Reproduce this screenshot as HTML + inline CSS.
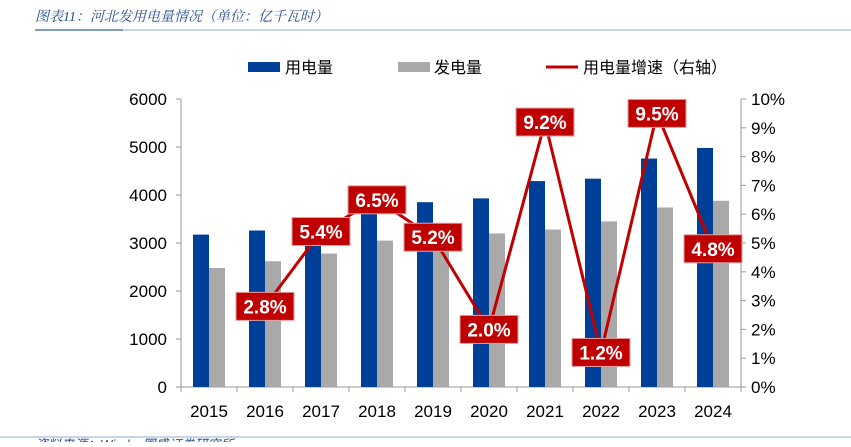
<!DOCTYPE html>
<html><head><meta charset="utf-8"><style>
body{margin:0;background:#fff;width:851px;height:442px;overflow:hidden;font-family:"Liberation Sans","Noto Sans CJK SC",sans-serif}
</style></head><body>
<svg id="c" width="851" height="442" xmlns="http://www.w3.org/2000/svg">
<text x="35" y="21" font-size="14" font-style="italic" fill="#2a4d8f" font-family="'Liberation Serif','Noto Serif CJK SC',serif">图表11：河北发用电量情况（单位：亿千瓦时）</text>
<line x1="35" y1="30" x2="851" y2="30" stroke="#b7c8e0" stroke-width="1.5"/>
<line x1="35" y1="30" x2="123" y2="30" stroke="#7d9bc8" stroke-width="2"/>
<line x1="0" y1="437" x2="851" y2="437" stroke="#b7c8e0" stroke-width="1.5"/>
<text x="35" y="449" font-size="13" font-style="italic" fill="#2a4d8f">资料来源：Wind，国盛证券研究所</text>
<g>
<rect x="248" y="62" width="32" height="10" fill="#003f98"/>
<text x="285" y="73" font-size="16" fill="#000">用电量</text>
<rect x="398" y="62" width="32" height="10" fill="#a9a9a9"/>
<text x="434" y="73" font-size="16" fill="#000">发电量</text>
<line x1="546" y1="67" x2="578" y2="67" stroke="#c00000" stroke-width="3"/>
<text x="583" y="73" font-size="16" fill="#000">用电量增速（右轴）</text>
</g>
<g id="plot"></g>
</svg>
<script>
const years=["2015","2016","2017","2018","2019","2020","2021","2022","2023","2024"];
const consumption=[3175,3260,3440,3660,3850,3930,4290,4340,4760,4980];
const generation=[2480,2620,2780,3050,3100,3200,3280,3450,3740,3880];
const growth=[null,2.8,5.4,6.5,5.2,2.0,9.2,1.2,9.5,4.8];
const leftTicks=[0,1000,2000,3000,4000,5000,6000];
const rightTicks=[0,1,2,3,4,5,6,7,8,9,10];
const NS="http://www.w3.org/2000/svg";
const g=document.getElementById('plot');
const X0=181,X1=741,Y0=387,Y1=99,step=(X1-X0)/years.length;
const yL=v=>Y0-(v/6000)*(Y0-Y1);
const yR=v=>Y0-(v/10)*(Y0-Y1);
const xc=i=>X0+step*(i+0.5);
function mk(t,a){const e=document.createElementNS(NS,t);for(const k in a)e.setAttribute(k,a[k]);g.appendChild(e);return e;}
let e;
e=mk('line',{x1:X0,y1:Y1,x2:X0,y2:Y0,stroke:'#999'});


e=mk('line',{x1:X1,y1:Y1,x2:X1,y2:Y0,stroke:'#999'});


e=mk('line',{x1:X0,y1:Y0,x2:X1,y2:Y0,stroke:'#999'});


leftTicks.forEach(v=>{e=mk('line',{x1:X0-5,x2:X0,y1:yL(v),y2:yL(v),stroke:'#999'});


e=mk('text',{x:X0-14,y:yL(v)+6,'font-size':17,'text-anchor':'end',fill:'#000'});e.textContent=v;

});
rightTicks.forEach(v=>{e=mk('line',{x1:X1,x2:X1+5,y1:yR(v),y2:yR(v),stroke:'#999'});


e=mk('text',{x:X1+10,y:yR(v)+6,'font-size':17,fill:'#000'});e.textContent=v+'%';

});
for(let i=0;i<=years.length;i++){e=mk('line',{x1:X0+step*i,x2:X0+step*i,y1:Y0,y2:Y0+5,stroke:'#999'});

}
years.forEach((y,i)=>{
e=mk('rect',{x:xc(i)-16,y:yL(consumption[i]),width:16,height:Y0-yL(consumption[i]),fill:'#003f98'});


e=mk('rect',{x:xc(i),y:yL(generation[i]),width:16,height:Y0-yL(generation[i]),fill:'#a9a9a9'});


e=mk('text',{x:xc(i),y:417,'font-size':17,'text-anchor':'middle',fill:'#000'});e.textContent=y;


});
const pts=[];growth.forEach((v,i)=>{if(v!==null)pts.push([xc(i),yR(v),v,i]);});
e=mk('polyline',{points:pts.map(p=>p[0]+','+p[1]).join(' '),fill:'none',stroke:'#c00000','stroke-width':3});


pts.forEach(p=>{
e=mk('rect',{x:p[0]-29,y:p[1]-14,width:58,height:28,fill:'#c00000',stroke:'#e6a0a0','stroke-width':1});


e=mk('text',{x:p[0],y:p[1]+7,'font-size':19,'font-weight':'bold','text-anchor':'middle',fill:'#fff'});e.textContent=p[2].toFixed(1)+'%';


});
</script>
</body></html>
